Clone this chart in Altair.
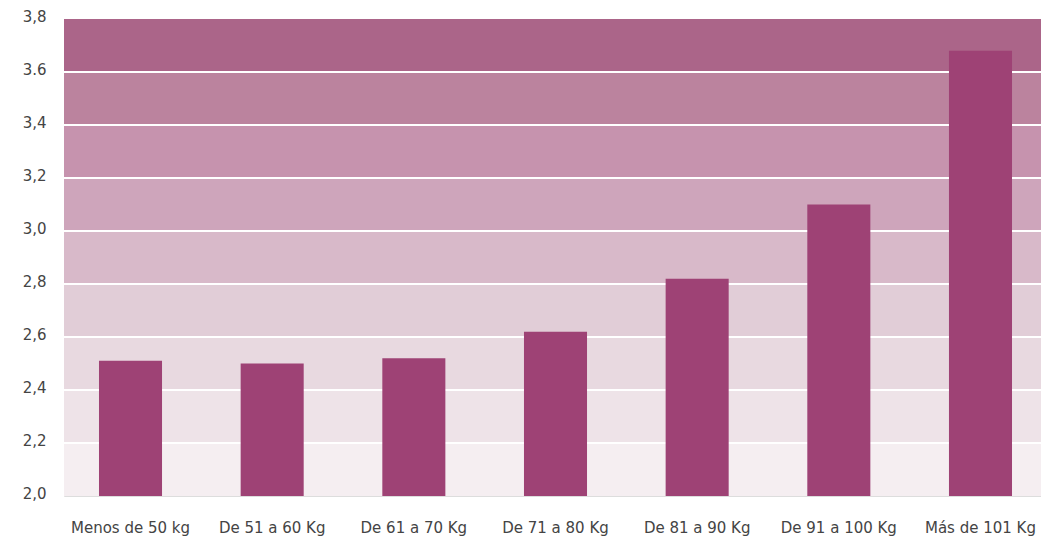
import altair as alt
import pandas as pd

categories = ["Menos de 50 kg", "De 51 a 60 Kg", "De 61 a 70 Kg", "De 71 a 80 Kg",
              "De 81 a 90 Kg", "De 91 a 100 Kg", "Más de 101 Kg"]
values = [2.51, 2.50, 2.52, 2.62, 2.82, 3.10, 3.68]

band_lo = [2.0, 2.2, 2.4, 2.6, 2.8, 3.0, 3.2, 3.4, 3.6]
band_hi = [2.2, 2.4, 2.6, 2.8, 3.0, 3.2, 3.4, 3.6, 3.8]
band_colors = ["#F5EEF1", "#EEE3E8", "#E8D9E0", "#E1CDD7", "#D8B9C9",
               "#CEA5BB", "#C693AE", "#BB839E", "#AB6589"]
grid_values = [2.2, 2.4, 2.6, 2.8, 3.0, 3.2, 3.4, 3.6]
tick_values = [2.0, 2.2, 2.4, 2.6, 2.8, 3.0, 3.2, 3.4, 3.6, 3.8]

bars_df = pd.DataFrame({"cat": categories, "val": values})
bands_df = pd.DataFrame({"lo": band_lo, "hi": band_hi, "color": band_colors})
grid_df = pd.DataFrame({"g": grid_values})

FONT = "DejaVu Sans"
yscale = alt.Scale(domain=[2.0, 3.8], nice=False, zero=False)

bands = alt.Chart(bands_df).mark_rect().encode(
    y=alt.Y("lo:Q", scale=yscale,
            axis=alt.Axis(values=tick_values, title=None, grid=False, domain=False, ticks=False,
                          labelExpr="datum.value == 3.6 ? '3.6' : replace(format(datum.value, '.1f'), '.', ',')",
                          labelFont=FONT, labelFontSize=15, labelColor="#444444",
                          labelPadding=18, labelOffset=-3)),
    y2="hi:Q",
    color=alt.Color("color:N", scale=None),
)

grid = alt.Chart(grid_df).mark_rule(color="white", strokeWidth=2).encode(
    y=alt.Y("g:Q", scale=yscale),
)

bars = alt.Chart(bars_df).mark_bar(color="#9E4275").encode(
    x=alt.X("cat:N", sort=categories,
            scale=alt.Scale(paddingInner=0.555, paddingOuter=0.247, range=[0, 983]),
            axis=alt.Axis(title=None, labelAngle=0, domain=False, ticks=False,
                          labelFont=FONT, labelFontSize=15, labelColor="#444444",
                          labelPadding=24)),
    y=alt.Y("val:Q", scale=yscale),
    y2=alt.datum(2.0),
)

chart = alt.layer(bands, grid, bars).properties(
    width=977, height=477,
    autosize=alt.AutoSizeParams(type="none"),
    padding={"left": 56, "top": 11, "right": 0, "bottom": 45},
).configure_view(stroke=None).configure(background="white")

chart.save("out.html", embed_options={"renderer": "svg", "actions": False})
